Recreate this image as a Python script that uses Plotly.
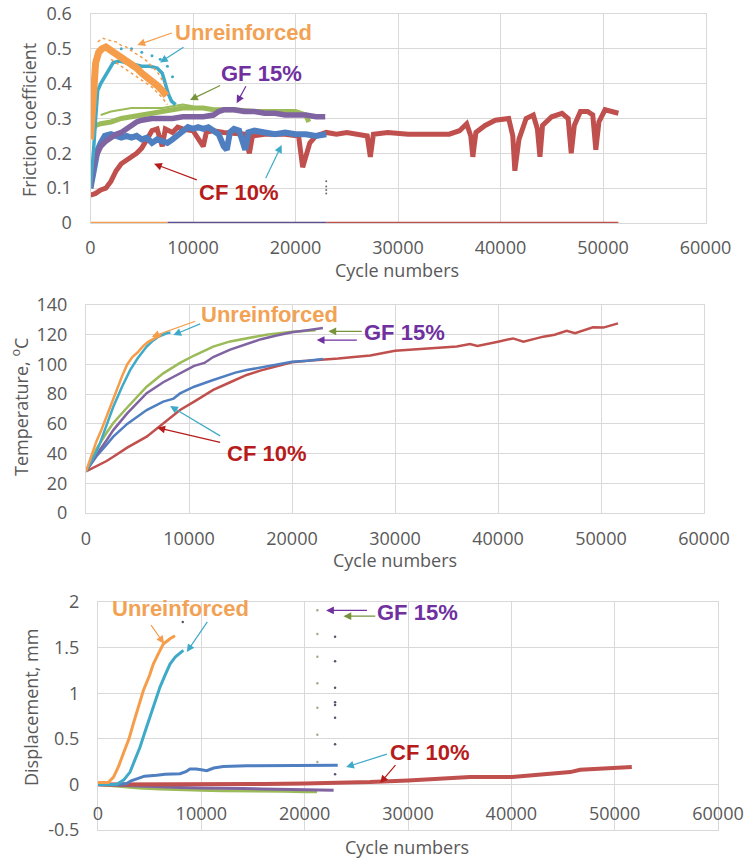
import plotly.graph_objects as go

# ---------------- DATA ----------------
# Panel 1: friction coefficient vs cycles
fr_orange_x = [0, 150, 300, 500, 800, 1100, 1500, 2000, 2500, 3000, 3500, 4000, 4500, 5000, 5500, 6000, 6500, 7000, 7400]
fr_orange_y = [0.24, 0.33, 0.41, 0.46, 0.49, 0.50, 0.505, 0.495, 0.49, 0.475, 0.465, 0.455, 0.445, 0.43, 0.42, 0.405, 0.395, 0.38, 0.365]
fr_orange_up_x = [700, 1200, 1800, 2500, 3000, 3500, 4200, 4800, 5500, 6000, 6600, 7200]
fr_orange_up_y = [0.52, 0.53, 0.525, 0.52, 0.51, 0.505, 0.49, 0.48, 0.465, 0.45, 0.43, 0.40]
fr_orange_lo_x = [2000, 3000, 4000, 5000, 6000, 7000, 7500]
fr_orange_lo_y = [0.47, 0.45, 0.43, 0.41, 0.39, 0.36, 0.34]

fr_teal_x = [0, 150, 300, 500, 700, 1000, 1400, 1800, 2200, 2800, 3500, 4200, 5000, 5800, 6500, 7000, 7300, 7600, 7900, 8300]
fr_teal_y = [0.10, 0.15, 0.21, 0.30, 0.38, 0.40, 0.42, 0.44, 0.46, 0.465, 0.46, 0.455, 0.45, 0.45, 0.445, 0.43, 0.40, 0.37, 0.35, 0.34]
fr_teal_dots_x = [3000, 4000, 5000, 6000, 6800, 7500, 8000]
fr_teal_dots_y = [0.50, 0.50, 0.49, 0.48, 0.47, 0.45, 0.42]

fr_green_x = [300, 500, 1000, 2000, 3000, 4000, 5000, 6000, 7000, 8000, 9000, 10000, 11000, 12000, 14000, 16000, 18000, 20000, 21000, 21300]
fr_green_y = [0.27, 0.28, 0.285, 0.29, 0.30, 0.305, 0.31, 0.315, 0.32, 0.325, 0.33, 0.33, 0.33, 0.325, 0.325, 0.32, 0.32, 0.32, 0.31, 0.29]
fr_green_up_x = [1000, 2000, 3000, 4000, 5000, 7000, 8000, 9000, 10000]
fr_green_up_y = [0.31, 0.32, 0.325, 0.33, 0.33, 0.33, 0.335, 0.34, 0.335]

fr_purple_x = [0, 200, 500, 1000, 1500, 2000, 2500, 3000, 3500, 4000, 4500, 5000, 6000, 7000, 8000, 9000, 10000, 11000, 12000, 12500, 13000, 14000, 15000, 16000, 17000, 18000, 19000, 20000, 21000, 22000, 22900]
fr_purple_y = [0.10, 0.16, 0.19, 0.22, 0.235, 0.245, 0.255, 0.26, 0.27, 0.28, 0.29, 0.295, 0.30, 0.30, 0.30, 0.305, 0.305, 0.305, 0.31, 0.32, 0.325, 0.325, 0.32, 0.32, 0.315, 0.315, 0.31, 0.31, 0.31, 0.305, 0.305]

fr_blue_x = [0, 200, 400, 700, 1000, 1400, 2000, 2500, 3000, 3500, 4000, 4500, 5000, 5500, 6000, 6500, 7000, 7500, 8000, 8500, 9000, 9500, 10000, 10500, 11000, 11500, 12000, 12500, 13000, 13300, 13600, 14000, 14500, 14800, 15100, 15400, 16000, 17000, 18000, 19000, 20000, 21000, 22000, 23000]
fr_blue_y = [0.10, 0.13, 0.17, 0.21, 0.23, 0.25, 0.255, 0.25, 0.245, 0.25, 0.245, 0.25, 0.24, 0.245, 0.23, 0.24, 0.235, 0.23, 0.24, 0.25, 0.265, 0.275, 0.27, 0.275, 0.27, 0.275, 0.265, 0.255, 0.22, 0.21, 0.26, 0.27, 0.265, 0.23, 0.21, 0.26, 0.265, 0.26, 0.255, 0.26, 0.255, 0.255, 0.25, 0.255]

fr_red_x = [0, 500, 1000, 1500, 2000, 2500, 3000, 3500, 4000, 4500, 5000, 5500, 6000, 6500, 7000, 7300, 8000, 8500, 9000, 10000, 11000, 11300, 12000, 13000, 15000, 15500, 15800, 17000, 19000, 20300, 20700, 21000, 21400, 22000, 23000, 24000, 25000, 26000, 27000, 27300, 27600, 29000, 31000, 33000, 35000, 36000, 36700, 37100, 37300, 37600, 38500, 39500, 40800, 41200, 41400, 41800, 42500, 43200, 43600, 43850, 44100, 45000, 46000, 46600, 46900, 47200, 47800, 48500, 49000, 49300, 49600, 50200, 51000, 51500]
fr_red_y = [0.08, 0.085, 0.095, 0.10, 0.12, 0.15, 0.17, 0.18, 0.19, 0.20, 0.215, 0.24, 0.265, 0.27, 0.22, 0.27, 0.26, 0.275, 0.27, 0.265, 0.22, 0.26, 0.265, 0.26, 0.255, 0.20, 0.25, 0.255, 0.255, 0.25, 0.16, 0.19, 0.23, 0.25, 0.26, 0.255, 0.26, 0.255, 0.25, 0.19, 0.255, 0.26, 0.255, 0.255, 0.255, 0.265, 0.285, 0.25, 0.19, 0.26, 0.28, 0.295, 0.30, 0.25, 0.15, 0.24, 0.30, 0.31, 0.27, 0.19, 0.28, 0.305, 0.315, 0.30, 0.20, 0.28, 0.32, 0.32, 0.31, 0.21, 0.29, 0.325, 0.32, 0.315]

fr_dots_x = [23000, 23000, 23000, 23000]
fr_dots_y = [0.12, 0.105, 0.095, 0.085]

zero_orange_x = [0, 7500]
zero_purple_x = [7500, 23000]
zero_red_x = [23000, 51500]
zero_y = [0, 0]

# Panel 2: temperature vs cycles
t_orange_x = [0, 500, 1000, 1500, 2000, 2500, 3000, 3500, 4000, 4500, 5000, 5500, 6000, 6500, 7000, 7300]
t_orange_y = [28, 38, 48, 56, 65, 75, 84, 92, 100, 105, 108, 112, 115, 117, 119, 120]
t_teal_x = [0, 500, 1000, 1360, 2000, 2650, 3500, 4270, 5000, 5890, 6500, 7000, 7830, 8200]
t_teal_y = [28, 34, 41, 47, 59, 71.5, 85, 96, 104, 112, 116, 118.5, 121, 121.5]
t_green_x = [0, 1000, 2000, 2650, 4000, 5890, 7500, 9130, 10500, 12350, 14000, 15600, 17500, 20000, 22300]
t_green_y = [28, 43, 54, 60.6, 71, 85, 94, 101, 106, 112, 115.5, 117.7, 120, 122, 123]
t_purple_x = [0, 1000, 2000, 2650, 4000, 5890, 7500, 9130, 10500, 11500, 12350, 14000, 15600, 17000, 18500, 20000, 21500, 22500, 23000]
t_purple_y = [28, 39, 49, 55.8, 67, 80.6, 88, 94, 99, 101, 105, 110, 114, 117, 119.5, 121.7, 123, 124.3, 124.5]
t_blue_x = [0, 1000, 2000, 2650, 4000, 5890, 7500, 8500, 9130, 10500, 12350, 13500, 14500, 15600, 17000, 18500, 20000, 21500, 23000]
t_blue_y = [28, 38, 46, 51.4, 60, 69.3, 75, 77, 80.5, 85, 89.5, 92, 94.5, 96.2, 98, 100, 101.8, 102.5, 103.6]
t_red_x = [0, 1000, 2000, 2650, 4000, 5890, 7500, 9130, 10500, 12350, 14000, 15600, 17000, 18500, 20000, 21500, 23000, 24500, 26000, 27600, 30000, 32000, 34050, 36000, 37280, 38000, 40000, 41460, 42460, 44400, 45500, 46670, 47480, 49220, 50230, 51650]
t_red_y = [28, 31.5, 35, 37.9, 44, 51.4, 60, 69.3, 75, 82.8, 88, 92.9, 96, 99, 101.5, 102.5, 103, 104, 105, 106, 109.2, 110, 110.8, 112, 113.7, 112.5, 115.3, 117.5, 115.3, 118.7, 120, 122.7, 121, 125, 124.8, 127.6]

# Panel 3: displacement vs cycles
d_orange_x = [0, 500, 1000, 1500, 2000, 2450, 3000, 3420, 4000, 4390, 5000, 5350, 6000, 6320, 7000, 7450]
d_orange_y = [0.02, 0.02, 0.02, 0.08, 0.20, 0.34, 0.50, 0.666, 0.87, 1.03, 1.20, 1.32, 1.47, 1.54, 1.60, 1.63]
d_teal_x = [0, 1000, 1810, 2500, 3100, 3500, 4070, 4500, 5030, 5500, 6000, 6500, 6970, 7500, 8260]
d_teal_y = [0, 0, 0, 0.05, 0.135, 0.25, 0.41, 0.56, 0.74, 0.91, 1.067, 1.20, 1.32, 1.40, 1.47]
d_blue_x = [0, 1000, 2000, 2780, 3200, 3750, 4500, 5680, 6500, 7940, 8500, 8900, 9500, 10000, 10520, 11200, 12130, 14400, 17000, 20000, 23200]
d_blue_y = [0, 0, 0, 0.01, 0.04, 0.06, 0.09, 0.10, 0.11, 0.117, 0.14, 0.17, 0.17, 0.16, 0.15, 0.18, 0.197, 0.205, 0.207, 0.208, 0.21]
d_purple_x = [0, 2000, 4000, 6000, 8000, 10000, 12000, 14000, 16000, 18000, 20000, 22800]
d_purple_y = [0, -0.01, -0.02, -0.03, -0.035, -0.04, -0.04, -0.045, -0.05, -0.055, -0.06, -0.065]
d_green_x = [0, 2000, 4000, 6000, 8000, 10000, 12000, 14000, 16000, 18000, 20000, 21200]
d_green_y = [0, -0.02, -0.04, -0.05, -0.06, -0.065, -0.07, -0.07, -0.075, -0.075, -0.08, -0.08]
d_red_x = [0, 3000, 5000, 8000, 10000, 13000, 16000, 20000, 23000, 26330, 30000, 33000, 36000, 40080, 42470, 44500, 45700, 46660, 48000, 50050, 51180, 51660]
d_red_y = [0, 0.0, -0.005, 0.0, 0.0, 0.005, 0.005, 0.01, 0.015, 0.025, 0.044, 0.06, 0.08, 0.08, 0.099, 0.115, 0.135, 0.16, 0.17, 0.179, 0.19, 0.19]
d_dots_a_x = [21230, 21230, 21230, 21230, 21230, 21230, 21230]
d_dots_a_y = [1.91, 1.65, 1.40, 1.11, 0.84, 0.545, 0.245]
d_dots_b_x = [22940, 22940, 22940, 22940, 22940, 22940, 22940, 22940, 8200]
d_dots_b_y = [1.62, 1.35, 1.06, 0.90, 0.87, 0.73, 0.44, 0.11, 1.78]

x_ticks = [0, 10000, 20000, 30000, 40000, 50000, 60000]
y1_ticks = [0, 0.1, 0.2, 0.3, 0.4, 0.5, 0.6]
y2_ticks = [0, 20, 40, 60, 80, 100, 120, 140]
y3_ticks = [-0.5, 0, 0.5, 1, 1.5, 2]
y3_ticktext = ["-0.5", "0", "0.5", "1", "1.5", "2"]

# ---------------- STYLE ----------------
ORANGE = "#F59D4A"
TEAL = "#3FAAC8"
GREEN = "#9BBB59"
PURPLE = "#8064A2"
BLUE = "#4F7FC0"
RED = "#C0504D"
ZPURPLE = "#5E4E94"
TXT_OR = "#F2A254"
TXT_GF = "#7030A0"
TXT_CF = "#B71C1C"
GRID = "#D9D9D9"
TICK = "#595959"
FONT = "Open Sans"

W, H = 747, 861


def xd(l, r):
    return [l / W, r / W]


def yd(t, b):
    return [1 - b / H, 1 - t / H]


fig = go.Figure()


def line(x, y, color, width, ax, ay, dash=None):
    fig.add_trace(go.Scatter(x=x, y=y, mode="lines", xaxis=ax, yaxis=ay,
                             line=dict(color=color, width=width, dash=dash),
                             showlegend=False, hoverinfo="skip"))


def dots(x, y, color, size, ax, ay):
    fig.add_trace(go.Scatter(x=x, y=y, mode="markers", xaxis=ax, yaxis=ay,
                             marker=dict(color=color, size=size),
                             showlegend=False, hoverinfo="skip"))


# Panel 1
line(zero_red_x, zero_y, RED, 2.5, "x", "y")
line(zero_purple_x, zero_y, ZPURPLE, 2.5, "x", "y")
line(zero_orange_x, zero_y, ORANGE, 2.5, "x", "y")
line(fr_red_x, fr_red_y, RED, 5, "x", "y")
line(fr_blue_x, fr_blue_y, BLUE, 6, "x", "y")
line(fr_green_up_x, fr_green_up_y, GREEN, 2, "x", "y")
line(fr_green_x, fr_green_y, GREEN, 5, "x", "y")
line(fr_purple_x, fr_purple_y, PURPLE, 5.5, "x", "y")
line(fr_teal_x, fr_teal_y, TEAL, 3.5, "x", "y")
dots(fr_teal_dots_x, fr_teal_dots_y, TEAL, 3, "x", "y")
line(fr_orange_up_x, fr_orange_up_y, ORANGE, 1.5, "x", "y", dash="dot")
line(fr_orange_lo_x, fr_orange_lo_y, ORANGE, 1.5, "x", "y", dash="dot")
line(fr_orange_x, fr_orange_y, ORANGE, 7, "x", "y")
dots(fr_dots_x, fr_dots_y, "#6b6b6b", 2, "x", "y")

# Panel 2
line(t_red_x, t_red_y, RED, 2.5, "x2", "y2")
line(t_blue_x, t_blue_y, BLUE, 2.5, "x2", "y2")
line(t_green_x, t_green_y, GREEN, 2.5, "x2", "y2")
line(t_purple_x, t_purple_y, PURPLE, 2.5, "x2", "y2")
line(t_teal_x, t_teal_y, TEAL, 2.5, "x2", "y2")
line(t_orange_x, t_orange_y, ORANGE, 2.5, "x2", "y2")

# Panel 3
line(d_green_x, d_green_y, GREEN, 3, "x3", "y3")
line(d_purple_x, d_purple_y, PURPLE, 3, "x3", "y3")
line(d_red_x, d_red_y, RED, 4, "x3", "y3")
line(d_blue_x, d_blue_y, BLUE, 3, "x3", "y3")
line(d_teal_x, d_teal_y, TEAL, 3, "x3", "y3")
line(d_orange_x, d_orange_y, ORANGE, 3, "x3", "y3")
dots(d_dots_a_x, d_dots_a_y, "#a9a98f", 2.5, "x3", "y3")
dots(d_dots_b_x, d_dots_b_y, "#55556a", 2.5, "x3", "y3")
fig.add_trace(go.Scatter(x=[], y=[], xaxis="x4", yaxis="y3", showlegend=False))

tickfont = dict(family=FONT, size=18, color=TICK)
common_x = dict(range=[0, 60000], tickvals=x_ticks, tickformat="d", showgrid=True,
                gridcolor=GRID, gridwidth=1, zeroline=False, showline=True, mirror=True,
                linecolor=GRID, linewidth=1, ticks="", tickfont=tickfont, automargin=False)
common_y = dict(showgrid=True, gridcolor=GRID, gridwidth=1, zeroline=False, showline=True,
                mirror=True, linecolor=GRID, linewidth=1, ticks="", tickfont=tickfont,
                automargin=False, ticklabelstandoff=14)

y3_dom = yd(602, 830)
y3_range = [-0.5, 2]
zero_pos = y3_dom[0] + (0 - y3_range[0]) / (y3_range[1] - y3_range[0]) * (y3_dom[1] - y3_dom[0])

fig.update_layout(
    width=W, height=H, margin=dict(l=0, r=0, t=0, b=0),
    paper_bgcolor="white", plot_bgcolor="white", showlegend=False,
    xaxis=dict(domain=xd(90.5, 705.5), anchor="y", ticklabelstandoff=8, **common_x),
    yaxis=dict(domain=yd(14, 223), anchor="x", range=[0, 0.6], tickvals=y1_ticks, **common_y),
    xaxis2=dict(domain=xd(86, 704), anchor="y2", ticklabelstandoff=9, **common_x),
    yaxis2=dict(domain=yd(305, 513), anchor="x2", range=[0, 140], tickvals=y2_ticks, **common_y),
    xaxis3=dict(domain=xd(98, 718), anchor="y3", **{**common_x, "showticklabels": False}),
    yaxis3=dict(domain=y3_dom, anchor="x3", range=y3_range, tickvals=y3_ticks,
                ticktext=y3_ticktext, **common_y),
    xaxis4=dict(domain=xd(98, 718), overlaying="x3", anchor="free", position=zero_pos,
                range=[0, 60000], tickvals=x_ticks, tickformat="d", showgrid=False,
                zeroline=False, showline=False, ticks="", tickfont=tickfont,
                automargin=False, ticklabelstandoff=17),
)

ann = []
bold = dict(family="Liberation Sans, Arial", size=22)


def label(text, x, y, color, xr, yr):
    ann.append(dict(text="<b>" + text + "</b>", x=x, y=y, xref=xr, yref=yr, showarrow=False,
                    font=dict(color=color, **bold)))


def arrow(tx, ty, hx, hy, color, xr, yr):
    ann.append(dict(text="", x=hx, y=hy, ax=tx, ay=ty, xref=xr, yref=yr, axref=xr, ayref=yr,
                    showarrow=True, arrowhead=2, arrowsize=1.3, arrowwidth=1.2,
                    arrowcolor=color, standoff=0))


# Panel 1 annotations
label("Unreinforced", 14880, 0.546, TXT_OR, "x", "y")
arrow(8080, 0.547, 4570, 0.511, ORANGE, "x", "y")
arrow(9220, 0.507, 6780, 0.461, TEAL, "x", "y")
label("GF 15%", 16700, 0.428, TXT_GF, "x", "y")
arrow(12800, 0.397, 9710, 0.353, "#77933C", "x", "y")
arrow(15240, 0.397, 14260, 0.344, TXT_GF, "x", "y")
label("CF 10%", 14420, 0.087, TXT_CF, "x", "y")
arrow(10520, 0.122, 6200, 0.17, TXT_CF, "x", "y")
arrow(17020, 0.124, 18650, 0.224, TEAL, "x", "y")

# Panel 2 annotations
label("Unreinforced", 17860, 133.9, TXT_OR, "x2", "y2")
arrow(10750, 129.4, 6380, 118.6, ORANGE, "x2", "y2")
arrow(11230, 127.7, 8480, 119.8, TEAL, "x2", "y2")
label("GF 15%", 30970, 121.8, TXT_GF, "x2", "y2")
arrow(26920, 122.3, 23530, 122.3, "#77933C", "x2", "y2")
arrow(26440, 116.4, 22400, 116.4, TXT_GF, "x2", "y2")
label("CF 10%", 17540, 40.2, TXT_CF, "x2", "y2")
arrow(13170, 47.3, 6920, 57.4, TXT_CF, "x2", "y2")
arrow(13170, 51.3, 8160, 72, TEAL, "x2", "y2")

# Panel 3 annotations
label("Unreinforced", 8000, 1.926, TXT_OR, "x3", "y3")
arrow(5030, 1.762, 6390, 1.543, ORANGE, "x3", "y3")
arrow(10680, 1.798, 8590, 1.451, TEAL, "x3", "y3")
label("GF 15%", 30930, 1.89, TXT_GF, "x3", "y3")
arrow(26170, 1.908, 22070, 1.908, TXT_GF, "x3", "y3")
arrow(26980, 1.845, 23750, 1.845, "#77933C", "x3", "y3")
label("CF 10%", 32040, 0.354, TXT_CF, "x3", "y3")
arrow(28100, 0.337, 24010, 0.19, TEAL, "x3", "y3")
arrow(28910, 0.227, 27300, 0.014, TXT_CF, "x3", "y3")

# Axis titles
tfont = dict(family=FONT, size=18, color=TICK)


def title(text, px, py, angle=0):
    ann.append(dict(text=text, x=px / W, y=1 - py / H, xref="paper", yref="paper",
                    showarrow=False, textangle=angle, font=tfont,
                    xanchor="center", yanchor="middle"))


title("Friction coefficient", 29, 120, -90)
title("Temperature, <sup>o</sup>C", 20, 407, -90)
title("Displacement, mm", 31, 708, -90)
title("Cycle numbers", 397, 270)
title("Cycle numbers", 395, 560)
title("Cycle numbers", 407, 847)

fig.update_layout(annotations=ann)
fig.write_html("out.html", config={"displayModeBar": False},
               post_script="document.body.style.margin='0';document.body.style.overflow='hidden';")
